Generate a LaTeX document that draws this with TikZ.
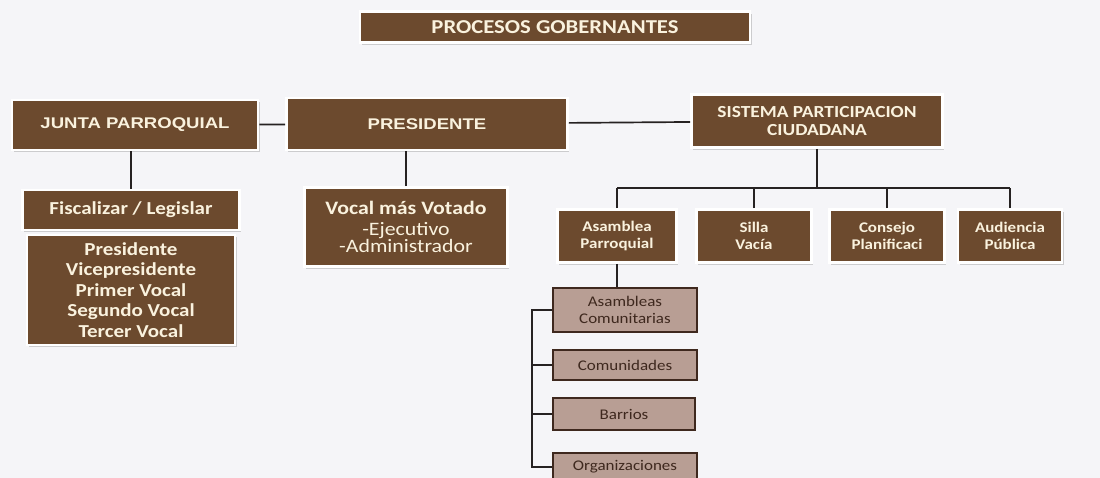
\documentclass[tikz,border=0pt]{standalone}
\usepackage{fontspec}
\setmainfont{Carlito}[FakeStretch=1.15]
\newfontfamily\arialfont{Liberation Sans}[FakeStretch=1.2]
\usepackage{tikz}
\usetikzlibrary{shadows}
\definecolor{cafe}{RGB}{108,74,46}
\definecolor{crema}{RGB}{250,242,222}
\definecolor{rosado}{RGB}{184,158,148}
\definecolor{oscuro}{RGB}{62,40,30}
\definecolor{negro}{RGB}{38,34,34}
\definecolor{fondo}{RGB}{245,245,248}

\begin{document}
\begin{tikzpicture}[%
		x=0.025cm,y=-0.025cm,
		medida/.style 2 args={minimum width=#1*0.025cm,minimum height=#2*0.025cm},
		caja/.style={fill=cafe,draw=white,line width=1.8pt,text=crema,font=\bfseries,
			align=center,inner sep=0pt,
			drop shadow={shadow xshift=1.2pt,shadow yshift=-1.5pt,opacity=0.35,fill=gray}},
		subcaja/.style={fill=rosado,draw=oscuro,line width=1.4pt,text=oscuro,
			font=\fontsize{10.5}{11.5}\selectfont,align=center,inner sep=0pt},
		linea/.style={draw=negro,line width=1.2pt}]
		\fill[fondo] (0,0) rectangle (1100,478);
		\useasboundingbox (0,0) rectangle (1100,478);
		\node[caja,medida={390}{31},font=\bfseries\fontsize{14}{16}\selectfont] (titulo) at (555,27) {PROCESOS GOBERNANTES};
		\node[caja,medida={246}{50},font=\arialfont\bfseries\fontsize{11}{12}\selectfont] (junta) at (135,125) {JUNTA PARROQUIAL};
		\node[caja,medida={281}{52},font=\arialfont\bfseries\fontsize{11}{12}\selectfont] (presi) at (427,124) {PRESIDENTE};
		\node[caja,medida={251}{53},font=\bfseries\fontsize{12}{13}\selectfont] (sistema) at (817,121) {SISTEMA PARTICIPACION\\CIUDADANA};
		\node[caja,medida={119}{53},font=\bfseries\fontsize{10.5}{12}\selectfont] (asamblea) at (617,236) {Asamblea\\Parroquial};
		\node[caja,medida={115}{53},font=\bfseries\fontsize{10.5}{12}\selectfont] (silla) at (754,236) {Silla\\Vacía};
		\node[caja,medida={115}{53},font=\bfseries\fontsize{10.5}{12}\selectfont] (consejo) at (887,236) {Consejo\\Planificaci};
		\node[caja,medida={104}{53},font=\bfseries\fontsize{10.5}{12}\selectfont] (audiencia) at (1010,236) {Audiencia\\Pública};
		\node[caja,medida={217}{40},font=\bfseries\fontsize{13}{15}\selectfont] (fiscal) at (131,210) {Fiscalizar / Legislar};
		\node[caja,medida={208}{110},font=\bfseries\fontsize{13}{14.5}\selectfont] (lista) at (131,290) {Presidente\\Vicepresidente\\Primer Vocal\\Segundo Vocal\\Tercer Vocal};
		\node[caja,medida={203}{79},font=\fontsize{13.5}{12}\selectfont] (vocal) at (406,227) {\textbf{Vocal más Votado}\\[3pt]-Ejecutivo\\-Administrador};
		\node[subcaja,medida={144}{44}] (comunitarias) at (625,310) {Asambleas\\Comunitarias};
		\node[subcaja,medida={144}{30}] (comunidades) at (625,365) {Comunidades};
		\node[subcaja,medida={142}{32}] (barrios) at (624,414) {Barrios};
		\node[subcaja,medida={144}{28}] (organizaciones) at (625,467) {Organizaciones};
		\coordinate (bus) at (815,188);
		\coordinate (riel) at (532,0);
		\draw[linea] (junta) -- (presi);
		\draw[linea] (presi) -- (sistema);
		\draw[linea] (fiscal.north) -- (fiscal.north |- junta.south);
		\draw[linea] (vocal.north) -- (vocal.north |- presi.south);
		\draw[linea] (sistema.south) -- (sistema.south |- bus);
		\draw[linea] (asamblea.north |- bus) -- (audiencia.north |- bus);
		\foreach \hijo in {asamblea,silla,consejo,audiencia}
			\draw[linea] (\hijo.north) -- (\hijo.north |- bus);
		\draw[linea] (asamblea.south) -- (asamblea.south |- comunitarias.north);
		\draw[linea] (comunitarias.west) -- (comunitarias.west -| riel) -- (organizaciones.west -| riel) -- (organizaciones.west);
		\foreach \hijo in {comunidades,barrios}
			\draw[linea] (\hijo.west) -- (\hijo.west -| riel);
		\end{tikzpicture}
\end{document}
